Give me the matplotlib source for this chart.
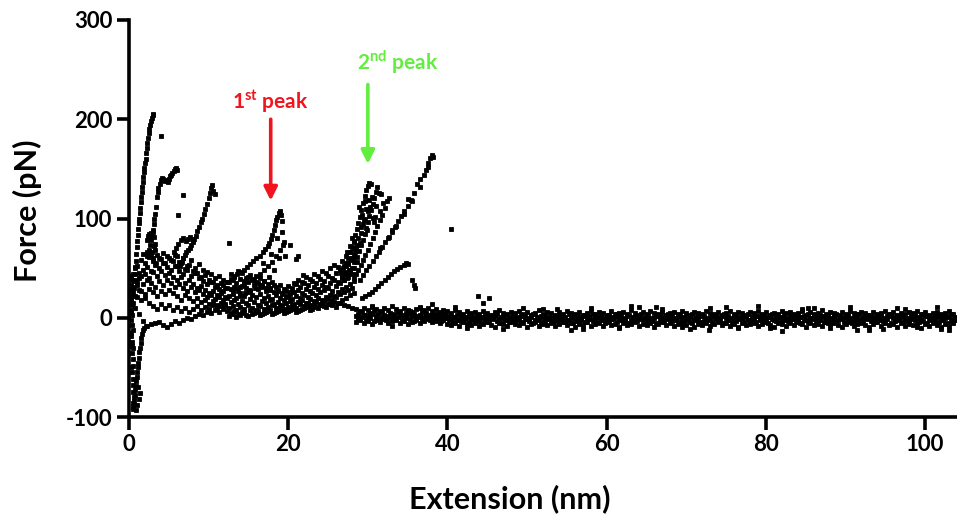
import numpy as np
import matplotlib.pyplot as plt

plt.rcParams['font.family'] = ['Lato', 'DejaVu Sans']
plt.rcParams['mathtext.fontset'] = 'custom'
plt.rcParams['mathtext.rm'] = 'Lato'
plt.rcParams['mathtext.bf'] = 'Lato:bold'
plt.rcParams['axes.unicode_minus'] = False

# ---------------- data (extension nm, force pN) ----------------
# column of points next to the axis (approach / contact region)
L1_x = [0.55, 0.5, 0.6, 0.45, 0.5, 0.55, 0.4, 0.5, 0.45, 0.35,
        0.5, 0.4, 0.3, 0.45, 0.35, 0.3, 0.4, 0.25, 0.35, 0.3,
        0.4, 0.25, 0.3, 0.35, 0.2, 0.3, 0.25, 0.35, 0.2, 0.3]
L1_y = [-92, -86, -80, -75, -68, -62, -55, -49, -42, -36,
        -30, -24, -18, -12, -7, -2, 3, 8, 13, 18,
        23, 28, 33, 38, 42, -15, 5, -28, 20, -50]
L2_x = [0.55, 0.62, 0.7, 0.78, 0.85, 0.92, 0.98, 1.05, 1.12, 1.18,
        1.24, 1.3, 1.38, 1.46, 1.55, 1.65, 1.78, 1.92, 2.1, 1.0,
        1.2, 1.35, 0.9, 1.1]
L2_y = [-90, -84, -78, -73, -69, -64, -60, -55, -50, -46,
        -41, -35, -30, -25, -20, -16, -12, -10, -8, -88,
        -82, -76, -93, -70]

# steep curve up to ~205 pN
c1_x = [0.62, 0.68, 0.74, 0.8, 0.86, 0.92, 0.98, 1.04, 1.1, 1.16,
        1.22, 1.28, 1.34, 1.4, 1.47, 1.54, 1.6, 1.66, 1.73, 1.8,
        1.87, 1.94, 2.01, 2.08, 2.16, 2.24, 2.32, 2.4, 2.48, 2.57,
        2.66, 2.76, 2.86, 2.96, 3.06]
c1_y = [30, 37, 44, 51, 57, 64, 71, 77, 83, 89,
        95, 100, 106, 111, 117, 122, 127, 132, 137, 142,
        147, 151, 156, 160, 166, 171, 176, 181, 186, 190,
        194, 198, 201, 204, 205]
hump_x = [2.2, 2.35, 2.5, 2.6, 2.75, 2.85, 3.0, 3.1, 3.2, 2.9, 3.05, 3.3, 3.4]
hump_y = [78, 82, 84, 80, 85, 83, 86, 81, 72, 66, 60, 74, 55]

# curve up to ~150 pN
c2_x = [2.3, 2.45, 2.6, 2.75, 2.9, 3.0, 3.1, 3.2, 3.3, 3.4,
        3.5, 3.6, 3.7, 3.85, 4.0, 4.15, 4.3, 4.5, 4.7, 4.85,
        5.0, 5.15, 5.3, 5.45, 5.6, 5.75, 5.9, 6.0]
c2_y = [62, 68, 73, 78, 83, 88, 94, 99, 105, 112,
        122, 127, 131, 135, 139, 141, 140, 138, 139, 137,
        140, 143, 144, 146, 148, 150, 151, 149]

# curve up to ~134 pN
c3_x = [6.4, 6.6, 6.8, 7.0, 7.2, 7.4, 7.6, 7.8, 8.0, 8.2,
        8.4, 8.6, 8.8, 9.0, 9.2, 9.4, 9.6, 9.8, 10.0, 10.15,
        10.3, 10.45, 10.6, 10.75]
c3_y = [52, 56, 60, 63, 66, 68, 70, 73, 76, 79,
        82, 87, 91, 96, 100, 105, 110, 115, 121, 126,
        131, 134, 128, 125]
upper_x = [5.9, 6.2, 6.5, 6.8, 7.1, 7.4, 7.7, 8.0, 5.6, 6.0]
upper_y = [70, 74, 78, 80, 77, 79, 81, 78, 66, 62]

stray_x = [4.0, 6.8, 6.2, 12.5, 20.2, 21.0, 21.2, 21.9, 40.4, 43.8]
stray_y = [183, 124, 104, 75, 73, 59, 62, 43, 89, 22]

# 1st peak
c4_x = [11.8, 12.3, 12.8, 13.2, 13.6, 14.0, 14.4, 14.8, 15.2, 15.6,
        16.0, 16.4, 16.8, 17.1, 17.4, 17.6, 17.8, 18.0, 18.2, 18.35,
        18.5, 18.65, 18.8, 18.95, 19.1, 19.2]
c4_y = [33, 36, 39, 41, 44, 46, 48, 51, 54, 57,
        60, 62, 66, 69, 72, 75, 79, 83, 88, 93,
        98, 102, 106, 108, 104, 97]
c4b_x = [13.0, 13.5, 14.0, 14.5, 15.0, 15.5, 16.0, 16.5, 17.0, 17.5,
         18.0, 18.5, 19.0, 19.3, 19.5, 18.8, 18.2, 17.6, 17.0, 16.4,
         15.8, 15.2, 14.6, 14.0, 16.8, 17.8, 18.6, 19.2, 19.6]
c4b_y = [28, 30, 31, 34, 36, 39, 42, 44, 48, 52,
         56, 62, 68, 73, 76, 60, 48, 41, 37, 33,
         30, 27, 25, 22, 55, 64, 80, 86, 62]

# 2nd peak
P1_x = [26.6, 26.9, 27.2, 27.5, 27.8, 28.0, 28.2, 28.4, 28.6, 28.8,
        29.0, 29.2, 29.4, 29.6, 29.8, 30.0, 30.2, 30.4]
P1_y = [45, 50, 55, 60, 66, 71, 77, 83, 89, 95,
        102, 109, 116, 123, 129, 133, 136, 135]
P2_x = [27.4, 27.7, 28.0, 28.3, 28.6, 28.9, 29.2, 29.4, 29.6, 29.8,
        30.0, 30.2, 30.4, 30.6, 30.8, 31.0, 31.2, 31.35]
P2_y = [40, 45, 50, 56, 61, 67, 73, 78, 84, 90,
        96, 103, 109, 115, 121, 127, 132, 126]
P3_x = [28.2, 28.5, 28.8, 29.1, 29.4, 29.7, 30.0, 30.3, 30.6, 30.9,
        31.2, 31.5, 31.8, 32.1, 32.4, 32.6]
P3_y = [40, 44, 48, 53, 58, 63, 68, 74, 80, 86,
        92, 98, 104, 111, 118, 121]
P4_x = [27.0, 27.3, 27.6, 27.9, 28.2, 28.5, 28.8, 29.1, 29.4, 29.7,
        30.0, 30.3, 30.6, 29.0, 28.6, 29.9, 30.8, 31.5, 27.8, 28.4,
        29.3, 30.5, 31.7, 29.6, 28.9, 26.8, 27.1, 27.5, 28.1, 28.7,
        29.2, 29.8, 30.2, 31.0, 31.9, 27.4, 28.0, 28.3, 29.5, 30.9]
P4_y = [38, 52, 48, 58, 63, 70, 80, 85, 94, 100,
        108, 112, 101, 75, 56, 88, 96, 108, 72, 66,
        104, 122, 125, 118, 112, 40, 46, 54, 60, 73,
        91, 110, 119, 113, 116, 66, 80, 76, 98, 102]

# curve up to ~164 pN
c8_x = [29.0, 29.4, 29.8, 30.2, 30.6, 31.0, 31.4, 31.8, 32.2, 32.6,
        33.0, 33.4, 33.8, 34.2, 34.6, 35.0, 35.4, 35.8, 36.2, 36.6,
        37.0, 37.3, 37.6, 37.8, 38.0, 38.2]
c8_y = [38, 43, 48, 52, 57, 62, 66, 71, 76, 81,
        86, 91, 97, 103, 108, 113, 119, 126, 135, 140,
        144, 149, 156, 161, 164, 162]
c8b_x = [31.5, 32.5, 33.5, 34.5, 35.5, 36.5, 37.5, 33.0, 35.0]
c8b_y = [70, 80, 92, 105, 118, 132, 152, 88, 120]

# small curve up to ~55 pN
c9_x = [29.3, 29.7, 30.1, 30.5, 30.9, 31.3, 31.7, 32.1, 32.5, 32.9,
        33.3, 33.7, 34.1, 34.5, 34.8, 35.1, 35.6, 35.8, 35.9]
c9_y = [20, 22, 24, 26, 29, 32, 35, 38, 41, 44,
        47, 49, 51, 53, 55, 54, 38, 33, 30]

# dense cluster 0.5-12 nm, two interleaved samplings every 0.5 nm
ext_a = np.arange(0.5, 12.01, 0.5)
ext_a2 = np.arange(0.75, 12.26, 0.5)
A1 = [44, 52, 58, 55, 61, 57, 63, 59, 55, 60, 57, 52, 55, 49, 53, 47, 45, 41, 43, 38, 36, 33, 35, 30]
A2 = [38, 45, 48, 51, 47, 53, 50, 55, 51, 48, 52, 47, 44, 48, 42, 45, 40, 37, 34, 36, 31, 29, 27, 30]
A3 = [31, 36, 42, 44, 40, 46, 42, 47, 43, 45, 41, 38, 41, 35, 38, 34, 30, 32, 28, 25, 27, 23, 25, 21]
A4 = [22, 28, 34, 38, 35, 31, 37, 33, 38, 35, 31, 34, 30, 27, 31, 26, 28, 24, 21, 23, 19, 21, 18, 20]
A5 = [15, 21, 27, 24, 29, 26, 22, 27, 24, 28, 25, 22, 18, 23, 20, 17, 20, 16, 18, 14, 17, 13, 15, 12]
A6 = [10, 4, -3, -8, -6, -5, -4, -7, -9, -6, -3, -5, -2, 0, -1, 2, 4, 3, 6, 5, 8, 6, 9, 7]
A7 = [26, 33, 18, 20, 15, 12, 9, 14, 10, 13, 8, 11, 7, 10, 6, 9, 12, 8, 11, 9, 13, 10, 12, 14]
A8 = [50, 40, 64, 66, 63, 68, 60, 65, 62, 58, 63, 56, 60, 52, 58, 50, 54, 48, 46, 44, 40, 42, 38, 36]

# band 12.5-28 nm
ext_b = np.arange(12.5, 28.01, 0.5)
ext_b2 = np.arange(12.75, 28.26, 0.5)
B1 = [36, 38, 35, 39, 37, 41, 38, 36, 40, 37, 34, 36, 31, 33, 29, 32, 30, 34, 31, 35,
      33, 37, 35, 39, 37, 42, 40, 45, 48, 52, 55, 60]
B2 = [29, 31, 27, 32, 30, 28, 33, 29, 31, 27, 30, 26, 28, 25, 27, 24, 26, 28, 25, 29,
      27, 31, 29, 33, 31, 35, 38, 36, 41, 44, 47, 50]
B3 = [22, 24, 20, 25, 22, 26, 23, 21, 24, 20, 22, 19, 23, 20, 18, 21, 19, 22, 20, 23,
      21, 25, 23, 26, 28, 30, 27, 32, 35, 38, 41, 44]
B4 = [16, 18, 14, 17, 15, 19, 16, 13, 17, 15, 18, 14, 16, 13, 15, 17, 14, 16, 18, 15,
      19, 17, 20, 18, 21, 23, 22, 26, 29, 31, 34, 37]
B5 = [10, 12, 8, 11, 9, 13, 10, 8, 12, 9, 11, 13, 10, 12, 9, 11, 13, 10, 14, 12,
      15, 13, 16, 14, 17, 19, 18, 21, 24, 26, 28, 30]
B6 = [5, 7, 4, 6, 3, 8, 5, 7, 4, 6, 8, 5, 7, 9, 6, 8, 10, 7, 9, 11,
      8, 12, 10, 13, 11, 14, 16, 15, 18, 20, 23, 25]
B7 = [2, 4, 1, 3, 5, 2, 4, 6, 3, 5, 7, 4, 6, 8, 5, 7, 9, 6, 8, 10,
      12, 9, 11, 13, 12, 14, 13, 11, 15, 13, 12, 10]
B8 = [44, 42, 47, 45, 40, 43, 38, 35, 33, 30, 28, 33, 27, 24, 22, 26, 35, 38, 36, 41,
      39, 44, 42, 47, 45, 50, 53, 51, 57, 62, 66, 70]

# baseline after detachment 28.5-103.5 nm
ext_base = np.arange(28.5, 103.51, 0.5)
ext_base2 = np.arange(28.75, 103.76, 0.5)
R1 = [9, 7, 10, 8, 11, 9, 7, 10, 8, 12, 9, 7, 10, 8, 6, 9, 11, 8, 10, 7,
      9, 6, 8, 7, 5, 8, 6, 4, 7, 5, 6, 4, 7, 5, 3, 6, 8, 5, 4, 6,
      5, 7, 4, 6, 3, 5, 8, 4, 6, 5, 3, 6, 4, 7, 5, 4, 6, 3, 5, 7,
      4, 6, 5, 3, 7, 4, 5, 6, 4, 8, 5, 3, 6, 4, 7, 5, 4, 6, 3, 5,
      6, 4, 7, 5, 3, 6, 5, 4, 7, 5, 4, 6, 3, 5, 7, 4, 6, 5, 3, 6,
      5, 7, 4, 6, 3, 5, 4, 7, 5, 6, 4, 5, 7, 3, 6, 4, 5, 8, 4, 6,
      5, 3, 6, 4, 7, 5, 4, 6, 5, 3, 6, 4, 5, 7, 4, 6, 3, 5, 4, 6,
      5, 7, 4, 6, 3, 5, 6, 4, 5, 7, 4]
R2 = [4, 6, 3, 5, 7, 4, 6, 2, 5, 4, 6, 3, 5, 7, 4, 2, 6, 5, 3, 4,
      5, 3, 4, 2, 1, 3, 2, 0, 3, 1, 2, 0, 3, 1, 2, 4, 1, 3, 0, 2,
      1, 3, 2, 0, 4, 1, 2, 3, 1, 0, 2, 3, 1, 4, 0, 2, 1, 3, 2, 4,
      1, 2, 0, 3, 1, 4, 2, 0, 3, 1, 2, 4, 1, 3, 0, 2, 3, 1, 4, 2,
      0, 3, 1, 2, 4, 1, 3, 2, 0, 2, 3, 1, 4, 2, 0, 3, 1, 2, 4, 1,
      2, 0, 3, 1, 4, 2, 1, 3, 0, 2, 3, 1, 2, 4, 0, 2, 3, 1, 2, 0,
      4, 2, 1, 3, 0, 2, 4, 1, 3, 2, 1, 3, 0, 2, 4, 1, 2, 3, 0, 2,
      3, 1, 4, 2, 0, 2, 3, 1, 2, 4, 1]
R3 = [2, 0, 3, 1, 4, 2, -1, 3, 1, 2, 0, 3, 1, 4, 2, 0, 3, 1, 2, -1,
      2, 1, 3, 0, -1, 1, -2, 0, 1, -1, 0, -2, 1, -1, 0, 2, -1, 0, -2, 1,
      -1, 0, 2, -1, 1, -2, 0, 1, -1, 0, 1, -1, 0, -2, 1, 0, -1, 2, 0, -1,
      0, 1, -2, 0, -1, 1, 0, -1, 2, -2, 1, 0, -1, 1, -2, 0, 2, -1, 0, 1,
      -1, 1, 0, -2, 1, -1, 0, 2, -1, 0, 1, -1, 2, 0, -2, 1, 0, -1, 1, -2,
      0, 2, -1, 0, 1, -2, 1, 0, -1, 2, -1, 0, 1, -2, 0, 1, -1, 2, 0, -1,
      1, -2, 0, 1, -1, 0, 2, -1, 0, 1, -2, 0, 1, -1, 2, 0, -1, 1, 0, -2,
      1, 0, -1, 2, -2, 0, 1, -1, 0, 1, -1]
R4 = [-1, 1, -2, 0, -3, -1, 1, -2, 0, -1, 1, -2, 0, -1, -3, 1, -1, 0, -2, 1,
      -1, -3, 0, -2, -4, -2, -3, -1, -4, -2, -3, -5, -2, -4, -1, -3, -5, -2, -4, -3,
      -2, -4, -1, -3, -5, -2, -4, -3, -1, -4, -3, -1, -4, -2, -5, -3, -2, -4, -1, -3,
      -4, -2, -5, -3, -1, -4, -2, -3, -5, -2, -3, -1, -4, -2, -3, -5, -2, -4, -1, -3,
      -2, -4, -3, -1, -5, -2, -4, -3, -2, -4, -1, -3, -5, -2, -4, -3, -1, -4, -2, -3,
      -4, -2, -3, -5, -1, -3, -4, -2, -3, -1, -3, -5, -2, -4, -1, -3, -2, -4, -5, -2,
      -3, -1, -4, -2, -5, -3, -2, -4, -1, -3, -4, -2, -3, -1, -5, -3, -2, -4, -3, -1,
      -2, -4, -3, -5, -1, -3, -4, -2, -5, -3, -2]
R5 = [-4, -2, -5, -3, -6, -2, -4, -1, -5, -3, -2, -5, -3, -6, -4, -2, -5, -3, -1, -4,
      -3, -5, -2, -6, -7, -5, -8, -4, -6, -7, -5, -8, -6, -4, -7, -9, -5, -6, -8, -4,
      -6, -7, -5, -9, -6, -4, -8, -6, -7, -5, -8, -6, -4, -7, -5, -9, -6, -7, -4, -8,
      -6, -5, -8, -4, -7, -6, -9, -5, -7, -6, -4, -8, -6, -7, -5, -9, -6, -4, -7, -5,
      -8, -6, -5, -7, -4, -9, -6, -7, -5, -8, -6, -4, -7, -5, -8, -6, -10, -5, -7, -6,
      -5, -8, -6, -4, -7, -9, -5, -6, -8, -5, -7, -4, -6, -9, -5, -7, -6, -8, -4, -6,
      -5, -7, -9, -6, -4, -8, -6, -5, -7, -9, -6, -4, -8, -5, -7, -6, -9, -5, -8, -6,
      -7, -5, -10, -6, -8, -5, -7, -9, -6, -8, -5]
out_x = [30.5, 33, 36.5, 41, 44.5, 47, 52, 55.5, 58, 61.5,
         64, 67, 70.5, 73, 76.5, 79, 82, 84.5, 88, 90.5,
         93, 96.5, 99, 101.5, 103, 42.5, 49.5, 57, 63, 69.5,
         75, 80.5, 86, 91.5, 97.5, 102, 38, 45.2, 53.7, 66.2,
         72.8, 85.3, 94.7]
out_y = [12, -8, 10, 11, 15, -11, 9, -12, 10, -10,
         11, 9, -11, 10, -9, 12, -13, 9, -10, 11,
         -12, 10, -9, 11, -12, -10, 10, -11, 12, -9,
         11, -10, 10, -12, 9, -11, 14, 20, 9, 11,
         -12, 10, -11]

red = '#f0141e'
green = '#62ee3f'

fig = plt.figure(figsize=(9.57, 5.23), dpi=100)
ax = fig.add_axes([129 / 957, 106 / 523, 828 / 957, 397 / 523])

groups = [(L1_x, L1_y), (L2_x, L2_y), (c1_x, c1_y), (hump_x, hump_y),
          (c2_x, c2_y), (c3_x, c3_y), (upper_x, upper_y), (stray_x, stray_y),
          (c4_x, c4_y), (c4b_x, c4b_y), (P1_x, P1_y), (P2_x, P2_y),
          (P3_x, P3_y), (P4_x, P4_y), (c8_x, c8_y), (c8b_x, c8b_y),
          (c9_x, c9_y), (out_x, out_y)]
for i, row in enumerate([A1, A2, A3, A4, A5, A6, A7, A8]):
    groups.append((ext_a if i % 2 == 0 else ext_a2, row))
for i, row in enumerate([B1, B2, B3, B4, B5, B6, B7, B8]):
    groups.append((ext_b if i % 2 == 0 else ext_b2, row))
for i, row in enumerate([R1, R2, R3, R4, R5]):
    groups.append((ext_base if i % 2 == 0 else ext_base2, row))

for gx, gy in groups:
    ax.plot(gx, gy, 's', color='black', ms=2.8, mew=0.6)

ax.set_xlim(0, 104)
ax.set_ylim(-100, 300)
ax.set_xticks([0, 20, 40, 60, 80, 100])
ax.set_yticks([-100, 0, 100, 200, 300])
ax.spines[['top', 'right']].set_visible(False)
for s in ['left', 'bottom']:
    ax.spines[s].set_linewidth(2.6)
ax.tick_params(width=2.6, length=9, labelsize=16, pad=3)
for lbl in ax.get_xticklabels() + ax.get_yticklabels():
    lbl.set_fontweight('bold')

ax.set_xlabel('Extension (nm)', fontsize=22, fontweight='bold')
ax.xaxis.set_label_coords(0.46, -0.17)
ax.set_ylabel('Force (pN)', fontsize=22, fontweight='bold')
ax.yaxis.set_label_coords(-0.105, 0.52)

# peak markers
ax.annotate('', xy=(17.8, 118), xytext=(17.8, 200),
            arrowprops=dict(arrowstyle='-|>,head_width=0.4,head_length=0.8',
                            color=red, lw=2.6, shrinkA=0, shrinkB=0))
ax.text(17.7, 218, r'1$^{\mathbf{st}}$ peak', color=red, fontsize=15,
        fontweight='bold', ha='center', va='center')
ax.annotate('', xy=(30.0, 155), xytext=(30.0, 235),
            arrowprops=dict(arrowstyle='-|>,head_width=0.4,head_length=0.8',
                            color=green, lw=2.6, shrinkA=0, shrinkB=0))
ax.text(33.7, 257, r'2$^{\mathbf{nd}}$ peak', color=green, fontsize=15,
        fontweight='bold', ha='center', va='center')

fig.savefig('out.png', dpi=100)
